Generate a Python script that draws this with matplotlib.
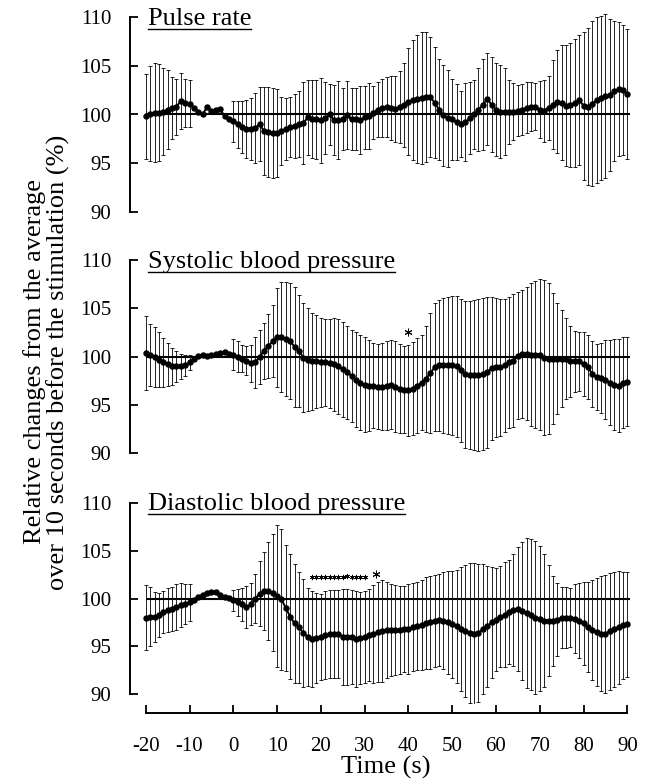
import numpy as np
import matplotlib
matplotlib.use('Agg')
import matplotlib.pyplot as plt
from matplotlib.lines import Line2D

plt.rcParams['font.family'] = ['Liberation Serif', 'DejaVu Serif']
plt.rcParams['axes.unicode_minus'] = False

nan = np.nan
time = np.arange(-20, 91)

# ---- pulse rate (% of baseline), mean and SD per second
pulse_mean = [99.8, 100.1, 100.2, 100.2, 100.3, 100.5, 100.7, 100.8, 101.4, 101.2,
              101.1, 100.7, 100.3, 100.0, 100.8, 100.4, 100.5, 100.6, 99.8, 99.5,
              99.3, 99.0, 98.7, 98.5, 98.5, 98.6, 99.0, 98.3, 98.2, 98.1,
              98.1, 98.3, 98.5, 98.7, 98.8, 99.0, 99.1, 99.7, 99.5, 99.5,
              99.4, 99.6, 100.0, 99.4, 99.4, 99.5, 99.9, 99.5, 99.5, 99.4,
              99.7, 99.8, 100.2, 100.5, 100.7, 100.8, 100.7, 100.6, 100.8, 101.0,
              101.3, 101.5, 101.6, 101.7, 101.8, 101.8, 101.2, 100.5, 99.9, 99.6,
              99.5, 99.2, 99.0, 99.2, 99.6, 100.0, 100.5, 101.0, 101.6, 101.0,
              100.5, 100.3, 100.3, 100.3, 100.3, 100.4, 100.5, 100.7, 100.8, 100.8,
              100.5, 100.4, 100.7, 101.0, 101.3, 101.2, 100.9, 101.0, 101.2, 101.5,
              100.9, 100.8, 101.1, 101.5, 101.7, 101.9, 102.0, 102.4, 102.6, 102.5,
              102.1]
pulse_sd = [4.4, 4.9, 5.1, 5.0, 4.5, 4.1, 3.2, 2.9, 2.9, 2.5,
            2.4, nan, nan, nan, nan, nan, nan, nan, nan, nan,
            2.1, 2.4, 2.7, 3.0, 3.2, 3.6, 3.8, 4.5, 4.6, 4.6,
            4.5, 3.5, 3.2, 3.1, 3.3, 3.4, 4.2, 3.9, 4.0, 4.1,
            4.4, 3.7, 3.1, 3.6, 4.0, 3.2, 3.5, 3.2, 3.2, 3.5,
            3.2, 3.4, 2.7, 2.8, 3.0, 3.1, 3.3, 3.4, 3.7, 4.3,
            5.5, 6.2, 6.6, 6.8, 6.7, 6.2, 5.7, 5.2, 5.2, 5.0,
            4.2, 3.9, 3.4, 4.0, 3.7, 3.6, 4.3, 4.7, 4.7, 4.9,
            4.8, 4.8, 4.5, 3.3, 2.9, 2.6, 2.6, 2.6, 2.5, 2.4,
            2.9, 3.2, 3.3, 4.6, 5.3, 5.9, 6.2, 6.4, 6.6, 6.7,
            7.6, 8.1, 8.5, 8.5, 8.4, 8.4, 7.8, 7.2, 6.9, 6.7,
            6.7]

# ---- systolic blood pressure
sys_mean = [100.4, 100.2, 100.0, 99.7, 99.4, 99.2, 99.0, 99.0, 99.0, 99.1,
            99.4, 99.8, 100.1, 100.2, 100.1, 100.2, 100.3, 100.4, 100.5, 100.3,
            100.2, 100.0, 99.8, 99.6, 99.3, 99.4, 100.0, 100.6, 101.1, 101.6,
            102.0, 102.0, 101.8, 101.6, 101.0, 100.6, 99.9, 99.7, 99.5, 99.5,
            99.4, 99.4, 99.3, 99.2, 99.0, 98.7, 98.4, 98.0, 97.6, 97.3,
            97.1, 97.0, 97.0, 96.9, 96.9, 97.0, 97.1, 96.9, 96.7, 96.6,
            96.5, 96.7, 97.0, 97.3, 97.7, 98.3, 98.9, 99.1, 99.1, 99.1,
            99.1, 99.0, 98.6, 98.2, 98.1, 98.1, 98.1, 98.2, 98.4, 98.8,
            98.9, 98.9, 99.1, 99.4, 99.6, 100.1, 100.3, 100.3, 100.2, 100.2,
            100.2, 99.9, 99.8, 99.8, 99.8, 99.8, 99.8, 99.5, 99.5, 99.5,
            99.2, 98.9, 98.2, 97.9, 97.8, 97.6, 97.3, 97.1, 97.0, 97.3,
            97.4]
sys_sd = [3.8, 3.2, 3.1, 2.8, 2.5, 2.2, 1.9, 1.6, 1.3, 1.1,
          0.8, nan, nan, nan, nan, nan, nan, nan, nan, nan,
          1.6, 1.6, 1.4, 1.5, 1.9, 2.6, 2.8, 2.9, 3.3, 3.7,
          5.1, 5.7, 5.9, 6.0, 6.2, 5.8, 5.6, 5.3, 5.0, 4.8,
          4.6, 4.5, 4.6, 4.8, 4.9, 4.9, 4.8, 4.8, 4.9, 4.9,
          4.9, 4.7, 4.4, 4.4, 4.5, 4.6, 4.6, 4.7, 4.6, 4.5,
          4.7, 4.8, 4.9, 4.9, 5.5, 6.2, 6.6, 6.8, 7.0, 7.1,
          7.2, 7.3, 7.4, 7.6, 7.7, 7.8, 7.9, 7.9, 7.8, 7.4,
          7.2, 7.1, 6.9, 6.8, 6.9, 6.6, 6.6, 6.9, 7.4, 7.6,
          7.8, 8.0, 7.8, 6.8, 5.7, 5.0, 4.2, 3.7, 3.2, 3.1,
          3.3, 3.3, 3.4, 3.4, 3.6, 4.1, 4.4, 4.7, 4.8, 4.7,
          4.6]

# ---- diastolic blood pressure
dia_mean = [98.0, 98.1, 98.1, 98.3, 98.6, 98.8, 98.9, 99.1, 99.3, 99.4,
            99.6, 99.8, 100.2, 100.4, 100.6, 100.7, 100.7, 100.4, 100.2, 100.1,
            99.8, 99.6, 99.4, 99.1, 99.4, 100.0, 100.5, 100.8, 100.8, 100.6,
            100.3, 99.9, 99.0, 98.1, 97.4, 97.0, 96.4, 96.0, 95.8, 95.9,
            96.0, 96.2, 96.3, 96.3, 96.3, 96.0, 96.0, 96.0, 95.8, 95.9,
            96.0, 96.2, 96.3, 96.5, 96.6, 96.7, 96.7, 96.7, 96.7, 96.8,
            96.8, 97.0, 97.1, 97.2, 97.4, 97.5, 97.7, 97.8, 97.7, 97.5,
            97.3, 97.1, 96.8, 96.6, 96.4, 96.3, 96.4, 96.8, 97.1, 97.5,
            97.8, 98.1, 98.3, 98.6, 98.8, 98.9, 98.7, 98.5, 98.3, 98.0,
            97.9, 97.7, 97.7, 97.7, 97.8, 98.0, 98.0, 98.0, 97.9, 97.7,
            97.4, 97.0, 96.7, 96.5, 96.3, 96.3, 96.6, 96.8, 97.0, 97.2,
            97.3]
dia_sd = [3.4, 3.1, 2.6, 2.3, 2.2, 2.3, 2.3, 2.4, 2.3, 2.1,
          1.9, nan, nan, nan, nan, nan, nan, nan, nan, nan,
          1.1, 1.4, 1.7, 2.2, 2.2, 2.6, 3.4, 4.1, 5.1, 6.1,
          7.4, 7.4, 6.6, 6.5, 6.2, 5.8, 5.6, 5.1, 5.0, 4.7,
          4.5, 4.6, 4.6, 4.6, 4.6, 5.0, 5.0, 4.9, 5.0, 4.8,
          4.8, 4.8, 5.1, 5.2, 5.3, 5.0, 4.8, 4.7, 4.6, 4.5,
          4.7, 4.6, 4.6, 4.7, 4.8, 4.9, 4.8, 4.8, 5.1, 5.4,
          5.6, 5.9, 6.5, 6.9, 7.3, 7.4, 7.2, 6.8, 6.3, 5.8,
          5.4, 5.3, 5.5, 5.4, 5.8, 6.5, 7.2, 7.8, 7.9, 8.0,
          7.6, 6.9, 5.8, 4.7, 3.8, 3.2, 3.2, 3.1, 3.6, 3.9,
          4.3, 4.7, 5.2, 5.6, 6.0, 6.2, 6.1, 6.0, 5.9, 5.6,
          5.5]

# significance marks (time, value)
sys_star_t = [40]
sys_star_y = [102.5]
dia_star_small_t = [18, 19, 20, 21, 22, 23, 24, 25, 26, 27, 28, 29, 30]
dia_star_small_y = [102.2, 102.2, 102.2, 102.2, 102.2, 102.2, 102.2, 102.2, 102.4, 102.2, 102.2, 102.2, 102.2]
dia_star_big_t = [32.5]
dia_star_big_y = [102.6]

titles = ['Pulse rate', 'Systolic blood pressure', 'Diastolic blood pressure']
means = [pulse_mean, sys_mean, dia_mean]
sds = [pulse_sd, sys_sd, dia_sd]

W, H = 653, 784
fig = plt.figure(figsize=(W / 100, H / 100), dpi=100)

# layout in pixels: y of 110 and 90 for each panel
panel_px = [(17.3, 211.7), (260.0, 453.3), (502.7, 694.3)]
xl, xr = 130.0, 631.7
xlim = (-23.6, 91.0)
ylim = (89, 111)
star = (6, 2, 0)   # six-armed asterisk marker

axes = []
for i, (y110, y90) in enumerate(panel_px):
    ppu = (y90 - y110) / 20.0
    top = y110 - ppu
    bot = y90 + ppu
    ax = fig.add_axes([xl / W, 1 - bot / H, (xr - xl) / W, (bot - top) / H])
    ax.set_xlim(*xlim)
    ax.set_ylim(*ylim)
    ax.patch.set_alpha(0)

    m = np.array(means[i], dtype=float)
    s = np.array(sds[i], dtype=float)
    ok = ~np.isnan(s)
    ax.errorbar(time[ok], m[ok], yerr=s[ok], fmt='none', ecolor='black',
                elinewidth=0.6, capsize=1.6, capthick=0.6, zorder=2)
    ax.hlines(100, time.min(), time.max() + 0.5, color='black', lw=1.5, zorder=3)
    ax.plot(time, m, '-o', color='black', lw=1.4, ms=3.6, zorder=4)

    for side in ['top', 'right']:
        ax.spines[side].set_visible(False)
    ax.spines['left'].set_bounds(90, 110)
    ax.spines['left'].set_linewidth(1.4)
    ax.set_yticks([90, 95, 100, 105, 110])
    ax.tick_params(axis='y', direction='in', length=6, width=1.3, pad=13.5,
                   labelsize=15)
    if i < 2:
        ax.spines['bottom'].set_visible(False)
        ax.set_xticks([])
    else:
        ax.spines['bottom'].set_bounds(-20, 90)
        ax.spines['bottom'].set_position(('outward', 6.5))
        ax.spines['bottom'].set_linewidth(1.4)
        ax.set_xticks(np.arange(-20, 91, 10))
        ax.tick_params(axis='x', direction='in', length=6, width=1.3, pad=17,
                       labelsize=15)
    ax.text(-19.5, 109.2, titles[i], fontsize=19, ha='left', va='baseline',
            zorder=5)
    axes.append(ax)

axes[1].plot(sys_star_t, sys_star_y, ls='none', marker=star, ms=5.5,
             mew=0.7, color='black')
axes[2].plot(dia_star_small_t, dia_star_small_y, ls='none', marker=star,
             ms=3.8, mew=0.5, color='black')
axes[2].plot(dia_star_big_t, dia_star_big_y, ls='none', marker=star,
             ms=5.5, mew=0.7, color='black')

fig.text(46.5 / W, 1 - 362 / H,
         'Relative changes from the average\nover 10 seconds before the stimulation (%)',
         rotation=90, ha='center', va='center', fontsize=19, linespacing=1.02,
         multialignment='center')
fig.text(386 / W, 1 - 767 / H, 'Time (s)', ha='center', va='center', fontsize=19)

# underline the panel titles
fig.canvas.draw()
inv = fig.transFigure.inverted()
for ax in axes:
    txt = ax.texts[-1]
    bb = txt.get_window_extent()
    base = ax.transData.transform((0, 109.2))[1]
    yline = base - 4.0
    p0 = inv.transform((bb.x0, yline))
    p1 = inv.transform((bb.x1, yline))
    fig.add_artist(Line2D([p0[0], p1[0]], [p0[1], p1[1]], color='black', lw=1.0))

fig.savefig('out.png', dpi=100)
